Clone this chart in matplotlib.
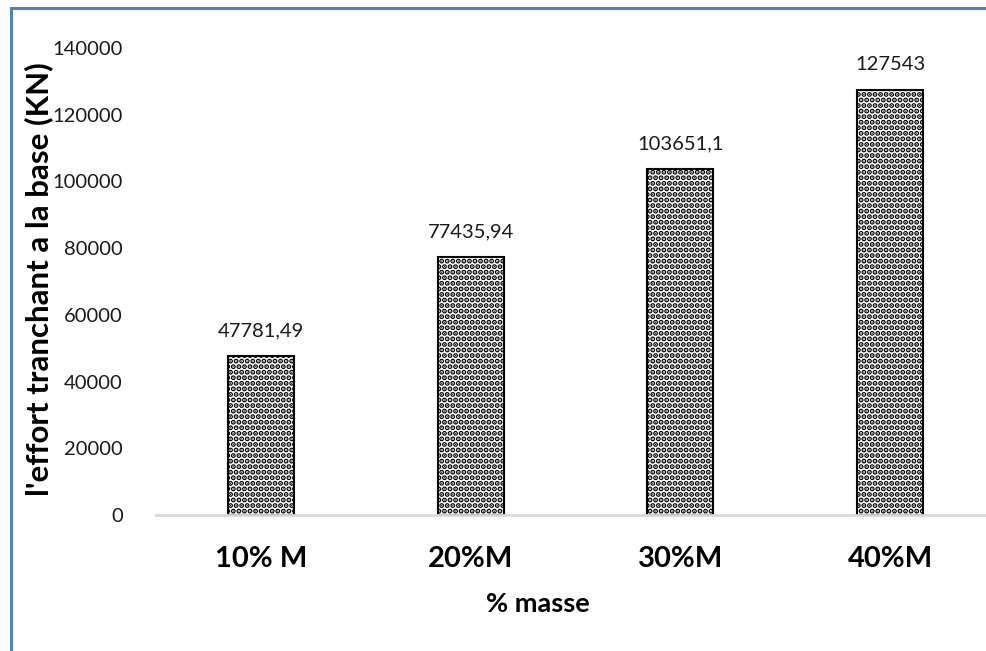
import matplotlib
matplotlib.use("Agg")
import matplotlib.pyplot as plt
from matplotlib.patches import Rectangle

categories = ["10% M", "20%M", "30%M", "40%M"]
values = [47781.49, 77435.94, 103651.1, 127543]
value_labels = ["47781,49", "77435,94", "103651,1", "127543"]
yticks = [0, 20000, 40000, 60000, 80000, 100000, 120000, 140000]

plt.rcParams['font.family'] = ['Lato', 'DejaVu Sans']
plt.rcParams['hatch.linewidth'] = 2.6

W, H = 986, 651
fig = plt.figure(figsize=(W / 100, H / 100), dpi=100)
ax = fig.add_axes([156 / W, (H - 515) / H, (995 - 156) / W, (515 - 48) / H])

x = range(len(categories))
ax.bar(x, values, width=66 / 210, facecolor='white', edgecolor='black',
       linewidth=1.5, hatch='...', zorder=2)
for xi, v, lab in zip(x, values, value_labels):
    ax.annotate(lab, (xi, v), xytext=(0, 12), textcoords='offset points',
                ha='center', va='bottom', fontsize=14.5, color='#1a1a1a')

ax.set_xlim(-0.5, 3.5)
ax.set_ylim(0, 140000)
ax.set_yticks(yticks)
ax.set_yticklabels([str(t) for t in yticks], fontsize=14.5, color='#1a1a1a')
ax.set_xticks(list(x))
ax.set_xticklabels(categories, fontsize=21, fontweight='bold')
ax.tick_params(axis='both', length=0)
ax.tick_params(axis='y', pad=24)
ax.tick_params(axis='x', pad=22)
for s in ['top', 'right', 'left']:
    ax.spines[s].set_visible(False)
ax.spines['bottom'].set_color('#d9d9d9')
ax.spines['bottom'].set_linewidth(2)

fig.text(538 / W, 1 - 604 / H, '% masse', ha='center', va='center',
         fontsize=19.5, fontweight='bold')
fig.text(39 / W, 1 - 279 / H, "l'effort tranchant a la base (KN)", rotation=90,
         ha='center', va='center', fontsize=22.5, fontweight='bold')

fig.patches.append(Rectangle((10.5 / W, -0.1), 1.2, 1 - 8 / H + 0.1,
                             transform=fig.transFigure, fill=False,
                             edgecolor='#4f81bd', linewidth=2.2))

fig.savefig('out.png', dpi=100)
